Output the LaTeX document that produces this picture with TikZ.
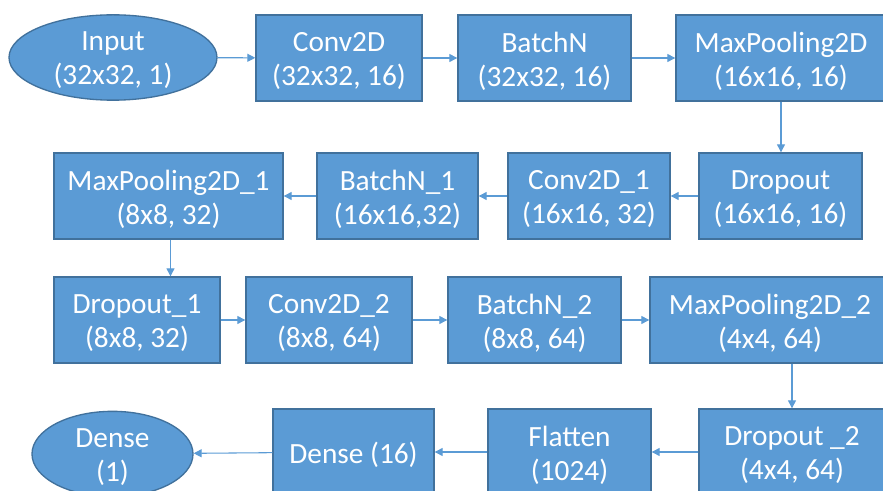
\documentclass[tikz,border=0pt]{standalone}
\usepackage{fontspec}
\setmainfont{Carlito}
\usetikzlibrary{arrows.meta,shapes.geometric}
\definecolor{boxfill}{HTML}{5B9BD5}
\definecolor{boxline}{HTML}{41719C}
\definecolor{arrowc}{HTML}{5B9BD5}
\tikzset{
  txt/.style={text=white, font=\fontsize{22}{25.5}\selectfont, align=center,
    inner sep=0pt, yshift=-2.25pt},
  layer/.style={rectangle, draw=boxline, fill=boxfill, line width=1pt,
    inner sep=0pt, minimum height=64.5pt, label={[txt]center:#1}},
  terminal/.style={ellipse, draw=boxline, fill=boxfill, line width=1pt,
    inner sep=0pt, minimum height=64pt, label={[txt]center:#1}},
  flow/.style={draw=arrowc, line width=0.8pt, -{Triangle[length=6pt,width=6pt]}}
}
\begin{document}
\begin{tikzpicture}[x=0.75pt,y=-0.75pt]
\useasboundingbox (0,0) rectangle (883,491);
\clip (0,0) rectangle (883,491);
% row 1
\node[terminal={Input\\(32x32, 1)}, minimum width=156pt] (in) at (113,57.5) {};
\node[layer={Conv2D\\(32x32, 16)}, minimum width=124.5pt] (c0) at (339,58) {};
\node[layer={BatchN\\(32x32, 16)}, minimum width=129.75pt] (b0) at (544.5,58) {};
\node[layer={MaxPooling2D\\(16x16, 16)}, minimum width=157.5pt] (m0) at (781,58) {};
% row 2
\node[layer={MaxPooling2D\_1\\(8x8, 32)}, minimum width=171.75pt] (m1) at (168.5,196) {};
\node[layer={BatchN\_1\\(16x16,32)}, minimum width=120.75pt] (b1) at (397.5,196) {};
\node[layer={Conv2D\_1\\(16x16, 32)}, minimum width=121.5pt] (c1) at (589,196) {};
\node[layer={Dropout\\(16x16, 16)}, minimum width=122.25pt] (d0) at (780.5,196) {};
% row 3
\node[layer={Dropout\_1\\(8x8, 32)}, minimum width=124.5pt] (d1) at (137,320) {};
\node[layer={Conv2D\_2\\(8x8, 64)}, minimum width=124.5pt] (c2) at (329,320) {};
\node[layer={BatchN\_2\\(8x8, 64)}, minimum width=129.75pt] (b2) at (534.5,320) {};
\node[layer={MaxPooling2D\_2\\(4x4, 64)}, minimum width=180pt] (m2) at (770,320) {};
% row 4
\node[layer={Dropout \_2\\(4x4, 64)}, minimum width=139.5pt] (d2) at (792,452) {};
\node[layer={Flatten\\(1024)}, minimum width=122.25pt] (fl) at (569.5,452) {};
\node[layer={Dense (16)}, minimum width=120.75pt] (de) at (353.5,452) {};
\node[terminal={Dense\\(1)}, minimum width=120.75pt] (out) at (112.5,454) {};
% connectors
\draw[flow] (in) -- (c0);
\draw[flow] (c0) -- (b0);
\draw[flow] (b0) -- (m0);
\draw[flow] (m0.south) -- (m0.south |- d0.north);
\draw[flow] (d0) -- (c1);
\draw[flow] (c1) -- (b1);
\draw[flow] (b1) -- (m1);
\draw[flow] ([xshift=1.5pt]m1.south) -- ([xshift=1.5pt]m1.south |- d1.north);
\draw[flow] (d1) -- (c2);
\draw[flow] (c2) -- (b2);
\draw[flow] (b2) -- (m2);
\draw[flow] (d2.north |- m2.south) -- (d2.north);
\draw[flow] (d2) -- (fl);
\draw[flow] (fl) -- (de);
\draw[flow] (de) -- (out);
\end{tikzpicture}
\end{document}
